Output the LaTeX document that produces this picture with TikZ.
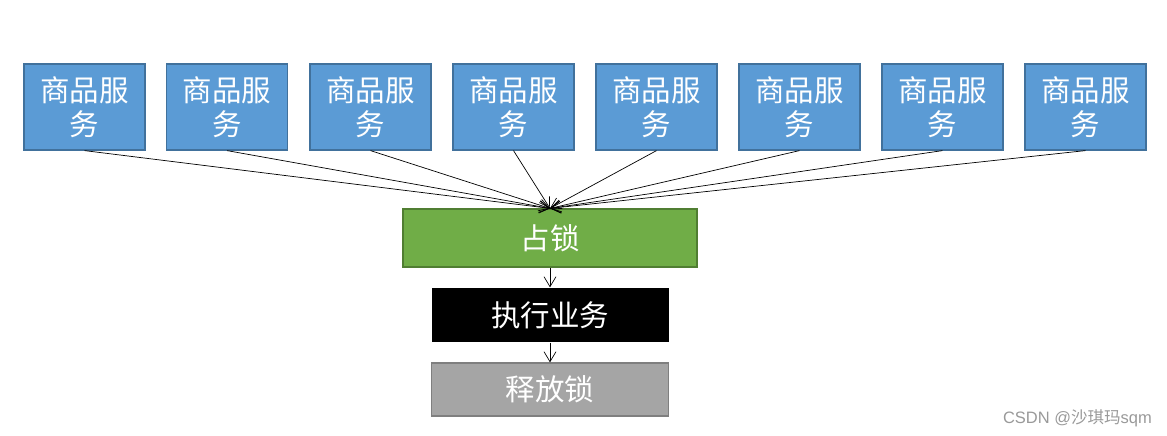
\documentclass[tikz,border=0pt]{standalone}
\usepackage{fontspec}
\setmainfont{Noto Sans CJK SC}
\newfontfamily\wmlatin{Liberation Sans}
\usetikzlibrary{arrows.meta}
\definecolor{boxblue}{HTML}{5B9BD5}
\definecolor{blueedge}{HTML}{41719C}
\definecolor{boxgreen}{HTML}{70AD47}
\definecolor{greenedge}{HTML}{507E32}
\definecolor{boxgray}{HTML}{A5A5A5}
\definecolor{grayedge}{HTML}{7F7F7F}
\tikzset{
  svc/.style={draw=blueedge, fill=boxblue, line width=1.2pt, minimum width=121pt, minimum height=86pt,
    inner sep=0pt, text=white, font=\fontsize{29.5}{34}\selectfont, align=center},
  wide/.style={line width=1.2pt, inner sep=0pt, text=white, font=\fontsize{29.5}{34}\selectfont},
  conn/.style={-{Straight Barb[length=10pt,width=12pt,line width=0.7pt]}, line width=0.7pt, black},
}
\begin{document}
\begin{tikzpicture}[x=1pt,y=-1pt]
\useasboundingbox (0,0) rectangle (1167,436);
\foreach \i/\cx in {1/84.5,2/227,3/370.5,4/513.5,5/656.5,6/799.5,7/942.5,8/1085.5}{
  \node[svc] (s\i) at (\cx,107) {商品服\\务};
}
\node[wide, draw=greenedge, fill=boxgreen, minimum width=294pt, minimum height=58pt] (lock) at (550,238) {占锁};
\node[wide, fill=black, minimum width=237pt, minimum height=54pt] (exec) at (550,315) {执行业务};
\node[wide, draw=grayedge, fill=boxgray, minimum width=237pt, minimum height=53pt] (rel) at (550,389.5) {释放锁};
\foreach \i in {1,...,8}{
  \draw[conn] (s\i.south) -- (lock.north);
}
\draw[conn] (lock.south) -- (exec.north);
\draw[conn] (exec.south) -- (rel.north);
\node[text=gray!80, font=\fontsize{16.5}{20}\selectfont, anchor=east, inner sep=0pt] (wm) at (1152,418) {\wmlatin CSDN @\normalfont 沙琪玛\wmlatin sqm};
\end{tikzpicture}
\end{document}
